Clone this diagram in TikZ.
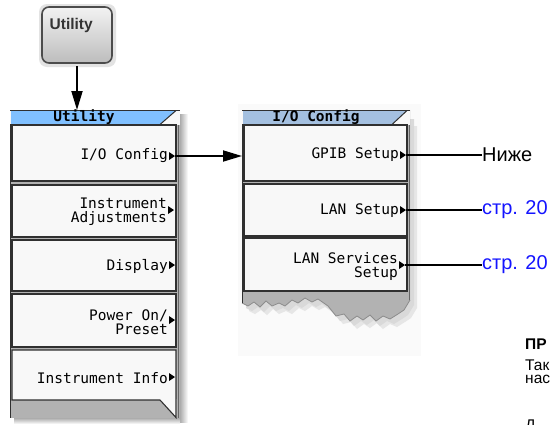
\documentclass[tikz,border=0pt]{standalone}
\usepackage{fontspec}
\setmainfont{Liberation Sans}
\setmonofont{DejaVu Sans Mono}
\usetikzlibrary{arrows.meta,calc}
\definecolor{utblue}{HTML}{80C0FF}
\definecolor{ioblue}{HTML}{A4C0E0}
\definecolor{btnfill}{HTML}{F8F8F8}
\definecolor{panelgray}{HTML}{B2B2B2}
\definecolor{linkblue}{HTML}{1414FF}
\definecolor{edgedark}{HTML}{303030}
\tikzset{
  panelbox/.style={inner sep=0pt, outer sep=0pt},
  menubtn/.style={draw=edgedark, line width=1.1pt, fill=btnfill, inner sep=0pt, outer sep=0pt},
  menutext/.style={font=\fontsize{14.5}{14}\selectfont\ttfamily, inner sep=0pt, align=right, anchor=east},
  titletext/.style={font=\fontsize{14.5}{14}\selectfont\ttfamily\bfseries, inner sep=0pt},
  arrowline/.style={line width=1.8pt, -{Triangle[length=19pt,width=11pt]}},
  leader/.style={line width=1.3pt},
  reftext/.style={font=\fontsize{20}{22}\selectfont, inner sep=0pt, anchor=west},
  notetext/.style={font=\fontsize{15.5}{18}\selectfont, inner sep=0pt, anchor=base west}
}
\begin{document}
\begin{tikzpicture}[x=1pt,y=-1pt]
\useasboundingbox (0,0) rectangle (552,424);
\fill[white] (0,0) rectangle (552,424);

% ---------- hard key ----------
\fill[gray!22, rounded corners=8pt] (39,4) rectangle (116,67);
\node[draw=black!70, line width=1.6pt, rounded corners=7pt, top color=gray!10, bottom color=gray!52,
      minimum width=70pt, minimum height=56pt, inner sep=0pt] (hk) at (77,35) {};
\node[font=\fontsize{15.5}{17}\selectfont\bfseries, inner sep=0pt, anchor=base west, text=black!80] (hklabel) at (49.5,29.5) {Utility};

% ---------- Utility menu panel ----------
\shade[left color=gray!65, right color=white] (180,114) rectangle (188,422);
\shade[top color=gray!65, bottom color=white] (14,418) rectangle (180,424);
\node[panelbox, fill=panelgray, minimum width=170pt, minimum height=308pt] (upanel) at (95,264) {};
\draw[edgedark, line width=0.8pt] (10,110) -- (10,418);
\draw[black!60, line width=1pt] (178,110) -- (178,418);
% title
\fill[btnfill] (10,110) rectangle (180,125);
\fill[utblue] (11,111) -- (176,111) -- (160,124) -- (11,124) -- cycle;
\draw[edgedark, line width=1pt] (10,110.5) -- (180,110.5);
\draw[edgedark, line width=1pt] (10,124.5) -- (160,124.5) -- (176,110.5);
\node[titletext] (utitle) at (84,117.5) {Utility};
% buttons
\node[menubtn, minimum width=164pt, minimum height=56pt] (u1) at (94,153) {};
\node[menubtn, minimum width=164pt, minimum height=52pt] (u2) at (94,211) {};
\node[menubtn, minimum width=164pt, minimum height=51pt] (u3) at (94,265.5) {};
\node[menubtn, minimum width=164pt, minimum height=53pt] (u4) at (94,320.5) {};
\fill[btnfill] (12,350) rectangle (176,400);
\fill[btnfill] (159,399) -- (176.5,399) -- (176.5,417.5) -- cycle;
\draw[edgedark, line width=1.1pt] (160,400) -- (12,400) -- (12,350) -- (176,350) -- (176,417.5) -- (160,400);
\node[panelbox, minimum width=164pt, minimum height=50pt] (u5) at (94,375) {};
% texts
\node[menutext] (tu1) at (168,156) {I/O Config};
\node[menutext] (tu2) at (167,212) {Instrument\\Adjustments};
\node[menutext] (tu3) at (168,266) {Display};
\node[menutext] (tu4) at (168,322) {Power On/\\Preset};
\node[menutext] (tu5) at (168,378) {Instrument Info};
% submenu markers
\fill (169,152) -- (175,156) -- (169,160) -- cycle;
\coordinate (mu1) at (175,156);
\fill (168,206) -- (174,210) -- (168,214) -- cycle;
\fill (169,261) -- (175,265) -- (169,269) -- cycle;
\fill (169,316) -- (175,320) -- (169,324) -- cycle;
\fill (169,373) -- (175,377) -- (169,381) -- cycle;

% ---------- I/O Config panel ----------
\fill[gray!4] (238,104) rectangle (421,356);
\def\tornedge{(410,300) -- (404,310) -- (398,314) -- (390,319) -- (383,316) -- (376,321) -- (370,315) -- (363,320) -- (357,316) -- (350,321) -- (344,314) -- (336,316) -- (328,306) -- (318,299) -- (312,302) -- (305,298) -- (298,303) -- (292,300) -- (285,306) -- (279,303) -- (272,306) -- (266,301) -- (260,307) -- (254,302) -- (248,306) -- (242,303)}
\fill[gray!45, opacity=0.6, shift={(4pt,-5pt)}] (242,114) -- (410,114) -- \tornedge -- cycle;
\fill[gray!30, opacity=0.6, shift={(7pt,-8pt)}] (242,118) -- (410,118) -- \tornedge -- cycle;
\fill[panelgray] (242,110) -- (410,110) -- \tornedge -- cycle;
\draw[black!45, line width=0.8pt] \tornedge;
\node[panelbox, minimum width=168pt, minimum height=195pt] (iopanel) at (326,207.5) {};
\draw[edgedark, line width=0.8pt] (242,110) -- (242,303);
\draw[black!60, line width=1pt] (409,110) -- (409,300);
% title
\fill[btnfill] (242,110) rectangle (410,125);
\fill[ioblue] (243,111) -- (407,111) -- (392,124) -- (243,124) -- cycle;
\draw[edgedark, line width=1pt] (242,110.5) -- (410,110.5);
\draw[edgedark, line width=1pt] (242,124.5) -- (392,124.5) -- (407,110.5);
\node[titletext] (iotitle) at (316,117.5) {I/O Config};
% buttons
\node[menubtn, minimum width=163pt, minimum height=56pt] (io1) at (325.5,153) {};
\node[menubtn, minimum width=163pt, minimum height=52pt] (io2) at (325.5,210) {};
\node[menubtn, minimum width=163pt, minimum height=53pt] (io3) at (325.5,264.5) {};
\node[menutext] (tio1) at (399,155) {GPIB Setup};
\node[menutext] (tio2) at (399,211) {LAN Setup};
\node[menutext] (tio3) at (398,266) {LAN Services\\Setup};
\fill (400,151) -- (406,155) -- (400,159) -- cycle;
\coordinate (mio1) at (406,155);
\fill (400,206) -- (406,210) -- (400,214) -- cycle;
\coordinate (mio2) at (406,210);
\fill (399,261) -- (405,265) -- (399,269) -- cycle;
\coordinate (mio3) at (405,265);

% ---------- connectors ----------
\draw[arrowline, shorten <=2pt] (hk.south) -- (hk.south |- upanel.north);
\draw[arrowline] (mu1) -- (iopanel.west |- mu1);

\node[reftext] (below) at (482,155) {Ниже};
\node[reftext, text=linkblue] (p20a) at (482,210) {стр. 20};
\node[reftext, text=linkblue] (p20b) at (482,265) {стр. 20};
\draw[leader] (mio1) -- (below.west);
\draw[leader] (mio2) -- (p20a.west);
\draw[leader] (mio3) -- (p20b.west);

% ---------- cut-off note text ----------
\begin{scope}
\clip (0,0) rectangle (552,424);
\node[notetext, font=\fontsize{15.5}{18}\selectfont\bfseries] (n1) at (525,349) {ПР};
\node[notetext] (n2) at (525,370) {Так};
\node[notetext] (n3) at (525,383.5) {нас};
\node[notetext] (n4) at (525,430.5) {Д};
\end{scope}
\end{tikzpicture}
\end{document}
